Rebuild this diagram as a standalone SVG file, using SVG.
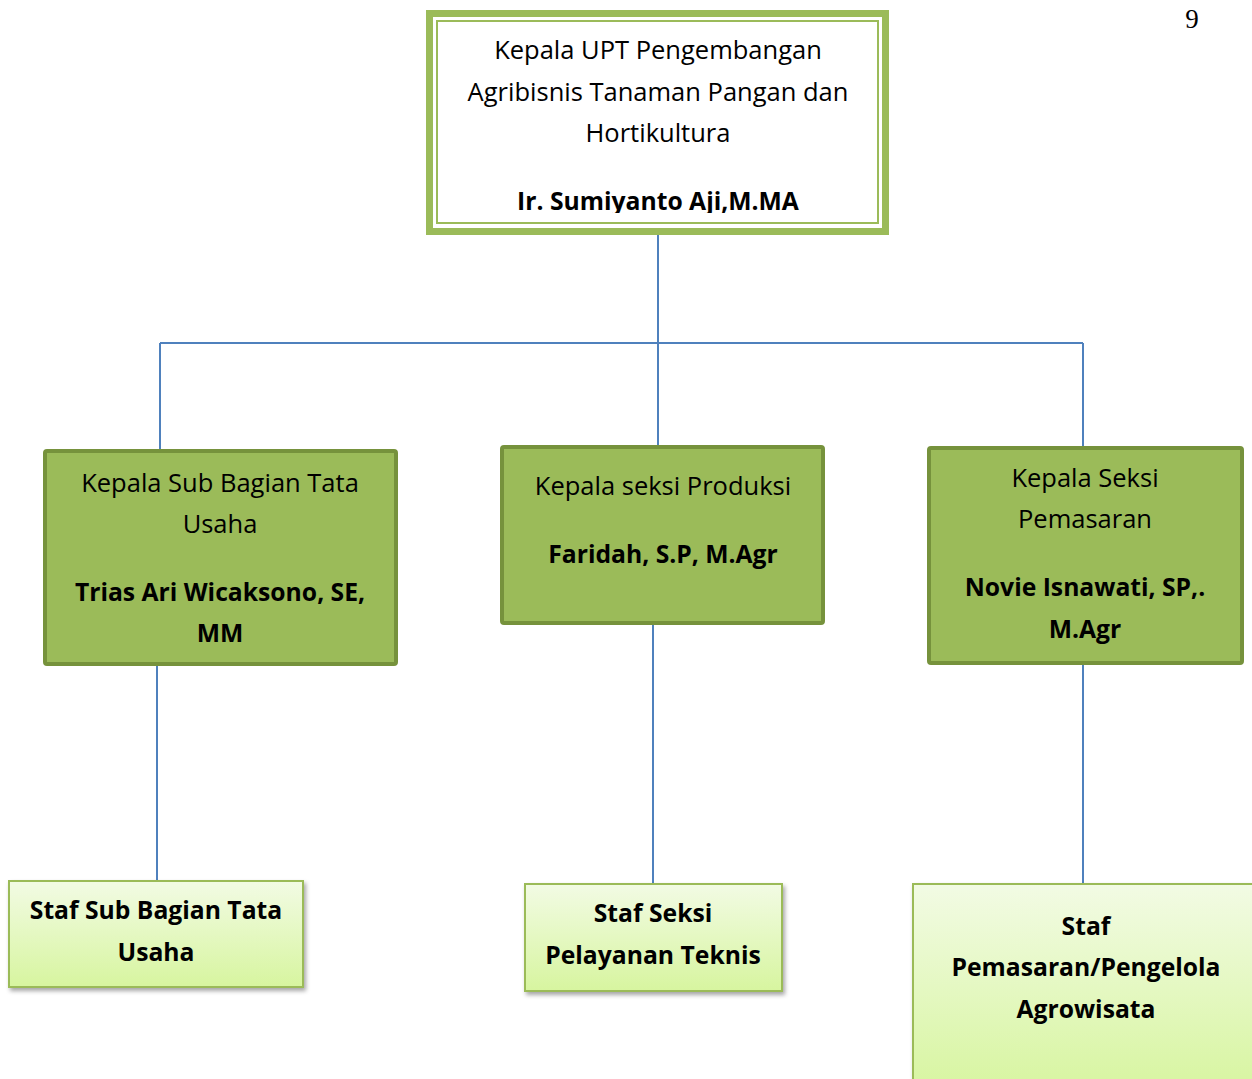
<svg xmlns="http://www.w3.org/2000/svg" width="1252" height="1079" viewBox="0 0 1252 1079">
<defs>
<style>
.t{font-family:"Open Sans","Liberation Sans",sans-serif;font-size:25.5px;fill:#000;text-anchor:middle}
.b{font-weight:bold;font-size:24.7px}
.mid{fill:#9BBB59;stroke:#76923C;stroke-width:4}
.low{fill:url(#g);stroke:#9BBB59;stroke-width:2;filter:url(#sh)}
.c{stroke:#4F81BD;stroke-width:2;fill:none}
</style>
<linearGradient id="g" x1="0" y1="0" x2="0" y2="1">
<stop offset="0" stop-color="#F2FBE4"/>
<stop offset="1" stop-color="#D7F59F"/>
</linearGradient>
<filter id="sh" x="-10%" y="-10%" width="125%" height="130%">
<feDropShadow dx="2" dy="3" stdDeviation="2" flood-color="#000" flood-opacity="0.35"/>
</filter>
<clipPath id="topclip"><rect x="438" y="22" width="439" height="191"/></clipPath>
</defs>
<rect width="1252" height="1079" fill="#fff"/>
<text x="1192" y="28" font-family="Liberation Serif, serif" font-size="27" text-anchor="middle">9</text>
<g id="connectors">
<line class="c" x1="658" y1="232" x2="658" y2="446"/>
<line class="c" x1="160" y1="343" x2="1083" y2="343"/>
<line class="c" x1="160" y1="343" x2="160" y2="449"/>
<line class="c" x1="1083" y1="343" x2="1083" y2="447"/>
<line class="c" x1="157" y1="666" x2="157" y2="881"/>
<line class="c" x1="653" y1="625" x2="653" y2="884"/>
<line class="c" x1="1083" y1="665" x2="1083" y2="884"/>
</g>
<g id="head">
<rect x="429.5" y="13.5" width="456" height="218" fill="#fff" stroke="#9BBB59" stroke-width="7"/>
<rect x="437" y="21" width="441" height="202" fill="none" stroke="#9BBB59" stroke-width="2"/>
<g clip-path="url(#topclip)">
<text class="t" x="658" y="59">Kepala UPT Pengembangan</text>
<text class="t" x="658" y="101">Agribisnis Tanaman Pangan dan</text>
<text class="t" x="658" y="142">Hortikultura</text>
<text class="t b" x="658" y="210">Ir. Sumiyanto Aji,M.MA</text>
</g>
</g>
<g id="kasubag">
<rect class="mid" x="45" y="451" width="351" height="213" rx="2"/>
<text class="t" x="220" y="492">Kepala Sub Bagian Tata</text>
<text class="t" x="220" y="533">Usaha</text>
<text class="t b" x="220" y="601">Trias Ari Wicaksono, SE,</text>
<text class="t b" x="220" y="642">MM</text>
</g>
<g id="kasi-produksi">
<rect class="mid" x="502" y="447" width="321" height="176" rx="2"/>
<text class="t" x="663" y="495">Kepala seksi Produksi</text>
<text class="t b" x="663" y="563">Faridah, S.P, M.Agr</text>
</g>
<g id="kasi-pemasaran">
<rect class="mid" x="929" y="448" width="313" height="215" rx="2"/>
<text class="t" x="1085" y="487">Kepala Seksi</text>
<text class="t" x="1085" y="528">Pemasaran</text>
<text class="t b" x="1085" y="596">Novie Isnawati, SP,.</text>
<text class="t b" x="1085" y="638">M.Agr</text>
</g>
<g id="staf-tu">
<rect class="low" x="9" y="881" width="294" height="106"/>
<text class="t b" x="156" y="919">Staf Sub Bagian Tata</text>
<text class="t b" x="156" y="961">Usaha</text>
</g>
<g id="staf-pelayanan">
<rect class="low" x="525" y="884" width="257" height="107"/>
<text class="t b" x="653" y="922">Staf Seksi</text>
<text class="t b" x="653" y="964">Pelayanan Teknis</text>
</g>
<g id="staf-pemasaran">
<rect class="low" x="913" y="884" width="350" height="210"/>
<text class="t b" x="1086" y="935">Staf</text>
<text class="t b" x="1086" y="976">Pemasaran/Pengelola</text>
<text class="t b" x="1086" y="1018">Agrowisata</text>
</g>
</svg>
